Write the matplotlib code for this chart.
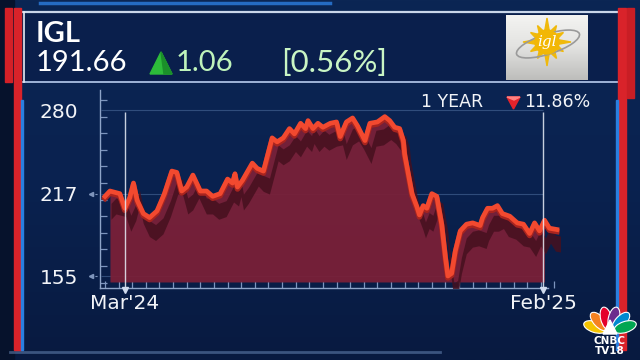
import numpy as np
import matplotlib
matplotlib.use("Agg")
import matplotlib.pyplot as plt
from matplotlib.patches import Rectangle, Polygon, Ellipse, Circle
from matplotlib.ticker import MultipleLocator
import matplotlib.transforms as mtransforms

# ---------------- data ----------------
ticker = "IGL"
price = "191.66"
change = "1.06"
change_pct = "[0.56%]"
period_label = "1 YEAR"
period_change = "11.86%"

# days since 2024-02-13
days = [0, 4, 12, 16, 20, 23, 26, 31, 36, 42, 48, 54, 58, 62, 66, 71, 77, 82, 87, 93,
        99, 103, 105, 107, 111, 119, 123, 128, 135, 139, 144, 149, 153, 158, 162, 164,
        168, 172, 176, 182, 187, 190, 195, 200, 204, 210, 214, 220, 226, 230, 234, 238,
        241, 242, 245, 248, 252, 254, 257, 260, 264, 268, 272, 275, 277, 280, 283, 287,
        292, 297, 303, 305, 309, 313, 317, 321, 327, 333, 338, 343, 347, 351, 355, 359, 365]
prices = [215, 219, 217, 206, 214, 225, 212, 202, 199, 204, 217, 234, 233, 219, 222, 231,
          219, 219, 215, 217, 228, 225, 232, 222, 227, 240, 236, 234, 259, 256, 259, 266,
          262, 270, 266, 272, 266, 270, 267, 270, 271, 260, 271, 274, 268, 257, 270, 271,
          275, 272, 267, 266, 257, 247, 232, 217, 207, 201, 208, 206, 217, 215, 194, 169,
          155, 157, 174, 189, 194, 195, 193, 199, 206, 206, 208, 202, 200, 195, 194, 187,
          195, 189, 197, 191, 190]
y_ticks = [155, 217, 280]
x_tick_days = [16, 354]
x_tick_labels = ["Mar'24", "Feb'25"]

FONT = "Lato"
FONT2 = "DejaVu Sans"
W, H = 640, 360
fig = plt.figure(figsize=(6.4, 3.6), dpi=100)
fig.patch.set_facecolor("#0a1f4a")

# ---------------- background / decorations (pixel space) ----------------
bg = fig.add_axes([0, 0, 1, 1], zorder=0)
bg.set_xlim(0, W)
bg.set_ylim(H, 0)
bg.axis("off")

grad = np.linspace(0, 1, 256)[:, None]
cmap_bg = matplotlib.colors.LinearSegmentedColormap.from_list("bg", ["#0b2654", "#0a2250", "#081a40"])
bg.imshow(grad, extent=(0, W, H, 0), cmap=cmap_bg, aspect="auto", zorder=0)
bg.add_patch(Rectangle((0, 0), 14, H, color="#06122c", zorder=1))
bg.add_patch(Rectangle((22, 12), 598, 70, color="#0a1f4c", zorder=1))
bg.plot([22, 620], [12, 12], color="#c9d6ea", lw=1.6, zorder=3)
bg.plot([22, 620], [82, 82], color="#9fb5d8", lw=1.4, zorder=3)
bg.plot([24, 24], [12, 82], color="#e6ecf5", lw=1.2, zorder=3)
bg.plot([40, 330], [3, 3], color="#2c7fe0", lw=2.5, alpha=0.8, zorder=2)
bg.plot([10, 440], [352, 352], color="#6f8fbf", lw=2.0, alpha=0.5, zorder=2)
bg.add_patch(Rectangle((5, 8), 7, 74, color="#d42027", zorder=4))
bg.add_patch(Rectangle((14, 8), 7, 342, color="#d9232a", zorder=4))
bg.add_patch(Rectangle((21, 100), 2, 250, color="#2a7fe0", zorder=4))
bg.add_patch(Rectangle((618, 8), 8, 342, color="#d9232a", zorder=4))
bg.add_patch(Rectangle((627, 8), 7, 90, color="#c91e25", zorder=4))
bg.add_patch(Rectangle((616, 100), 2, 250, color="#2a7fe0", zorder=4))

# header texts
bg.text(36, 34, ticker, color="white", fontsize=21, fontweight="bold", family=FONT,
        va="center", ha="left", zorder=5)
bg.text(36, 63, price, color="white", fontsize=21, family=FONT,
        va="center", ha="left", zorder=5)
bg.add_patch(Polygon([[150, 74], [161, 52], [172, 74]], closed=True, color="#2dbb3a", zorder=5))
bg.add_patch(Polygon([[161, 52], [172, 74], [164, 74]], closed=True, color="#1b8f2a", zorder=5))
bg.text(176, 63, change, color="#bff3bb", fontsize=21, family=FONT,
        va="center", ha="left", zorder=5)
bg.text(281, 63, change_pct, color="#c9f5c4", fontsize=22.5, family=FONT,
        va="center", ha="left", zorder=5)

# igl logo
cmap_logo = matplotlib.colors.LinearSegmentedColormap.from_list("lg", ["#f4f4f2", "#e2e2e0", "#bdbdbb"])
bg.imshow(grad, extent=(506, 588, 80, 15), cmap=cmap_logo, aspect="auto", zorder=5)
for ang in np.arange(0, 360, 30):
    a = np.deg2rad(ang)
    r1, r2 = 12, 24 if ang % 90 == 0 else 19
    p = [[547 + r2 * np.cos(a), 42 - r2 * np.sin(a)],
         [547 + r1 * np.cos(a + 0.18), 42 - r1 * np.sin(a + 0.18)],
         [547 + r1 * np.cos(a - 0.18), 42 - r1 * np.sin(a - 0.18)]]
    bg.add_patch(Polygon(p, closed=True, color="#f0b90b", zorder=6))
bg.add_patch(Ellipse((548, 44), 66, 20, angle=-18, fill=False, edgecolor="#9a9a9a", lw=1.2, zorder=6))
bg.add_patch(Circle((547, 42), 12, color="#f2b705", zorder=7))
bg.text(547, 42, "igl", color="white", fontsize=11, family="DejaVu Serif", style="italic",
        ha="center", va="center", zorder=8)

# period change
bg.text(421, 102, period_label, color="#f2f4f8", fontsize=12.5, family=FONT2,
        va="center", ha="left", zorder=5)
bg.add_patch(Polygon([[507, 97], [520, 97], [513.5, 109]], closed=True, color="#e3232b", zorder=5))
bg.add_patch(Polygon([[507, 97], [520, 97], [514, 100]], closed=True, color="#ff8080", zorder=5))
bg.text(524, 102, period_change, color="#f2f4f8", fontsize=12.5, family=FONT2,
        va="center", ha="left", zorder=5)

# CNBC TV18 logo
feather_cols = ["#f5c400", "#f58220", "#e4002b", "#6c2c8e", "#0089cf", "#00a651"]
for col, ang in zip(feather_cols, [162, 133, 104, 76, 47, 18]):
    a = np.deg2rad(ang)
    bg.add_patch(Ellipse((610 + 16 * np.cos(a), 331 - 13 * np.sin(a)), 23, 11, angle=-ang,
                         facecolor=col, edgecolor="white", lw=0.8, zorder=6))
bg.add_patch(Polygon([[603, 334], [617, 334], [610, 320]], closed=True, color="white", zorder=7))
bg.text(610, 344.5, "CNBC", color="white", fontsize=7.5, fontweight="heavy", family="DejaVu Sans",
        ha="center", va="baseline", zorder=7)
bg.text(610, 354.5, "TV18", color="white", fontsize=7.5, fontweight="heavy", family="DejaVu Sans",
        ha="center", va="baseline", zorder=7)

# ---------------- chart axes ----------------
px_per_unit = 83 / 62.5
left_px, right_px, top_px, bot_px = 100, 560, 90, 288
ax = fig.add_axes([left_px / W, (H - bot_px) / H, (right_px - left_px) / W, (bot_px - top_px) / H], zorder=2)
ax.set_facecolor("none")
px_per_day = 1.238
ax.set_xlim((left_px - 105) / px_per_day, (right_px - 105) / px_per_day)
ymin = 155 - (bot_px - 276) / px_per_unit
ymax = 280 + (110 - top_px) / px_per_unit
ax.set_ylim(ymin, ymax)

x = np.array(days, dtype=float)
y = np.array(prices, dtype=float)
floor = 150.5

ax.hlines(y_ticks, xmin=-3, xmax=x_tick_days[-1], color="#4a6a9a", lw=0.8, alpha=0.6, zorder=1)

fill_mask = (x >= 3) & (x <= 358)
ax.fill_between(x, floor, y, where=fill_mask, color="#7a2038", alpha=0.95, lw=0, zorder=2)
shadow_tr = ax.transData + mtransforms.ScaledTranslation(6 / 100, -7 / 100, fig.dpi_scale_trans)
ax.fill_between(x, y - 12, y, color="#46101f", alpha=0.85, lw=0, zorder=3, transform=shadow_tr)
ax.plot(x, y - 1.5, color="#a8241f", lw=4.0, zorder=4, solid_joinstyle="round")
ax.plot(x, y, color="#f2492f", lw=3.4, zorder=5, solid_joinstyle="round")

ax.vlines(x_tick_days, ymin, 278.5, color="#e8eef8", lw=1.0, alpha=0.85, zorder=6)

for s in ["top", "right"]:
    ax.spines[s].set_visible(False)
ax.spines["left"].set_color("#8ea4c8")
ax.spines["bottom"].set_color("#8ea4c8")
ax.spines["left"].set_linewidth(1.0)
ax.spines["bottom"].set_linewidth(1.0)
ax.spines["bottom"].set_bounds(ax.get_xlim()[0], 358)
ax.set_yticks(y_ticks)
ax.set_yticklabels([str(v) for v in y_ticks])
ax.yaxis.set_minor_locator(MultipleLocator(12.5))
ax.set_xticks(x_tick_days)
ax.set_xticklabels(x_tick_labels)
ax.xaxis.set_minor_locator(MultipleLocator(11))
ax.tick_params(axis="y", which="major", length=0, pad=16, labelsize=14.5, labelcolor="#f2f4f8")
ax.tick_params(axis="x", which="major", length=0, pad=4, labelsize=14.5, labelcolor="#f2f4f8")
ax.tick_params(axis="both", which="minor", direction="in", length=5, color="#7d95be", width=0.9)
for lab in ax.get_xticklabels() + ax.get_yticklabels():
    lab.set_family(FONT2)

ax.plot(x_tick_days, [ymin - 1.5] * len(x_tick_days), marker="v", ms=4, color="#d0dbee",
        ls="none", clip_on=False, zorder=7)
ytr = mtransforms.blended_transform_factory(ax.transAxes, ax.transData)
for v in y_ticks[:2]:
    ax.plot([-0.02, -0.004], [v, v], color="#7f95bb", lw=0.8, ls=(0, (2, 1.5)), transform=ytr, clip_on=False)
    ax.plot([-0.02], [v], marker="<", ms=3, color="#7f95bb", transform=ytr, clip_on=False)

fig.savefig("out.png", dpi=100, facecolor=fig.get_facecolor())
